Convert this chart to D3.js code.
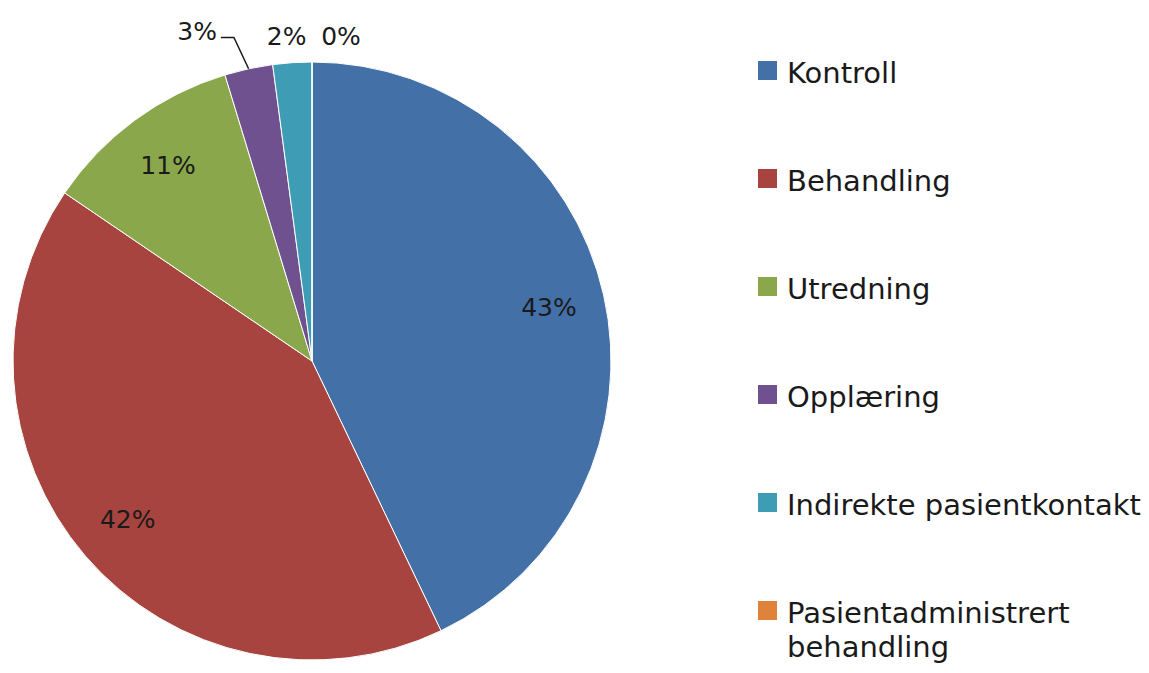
<!DOCTYPE html>
<html>
<head>
<meta charset="utf-8">
<title>Pie</title>
<script src="https://d3js.org/d3.v7.min.js"></script>
<style>
body { margin: 0; background: #fff; }
text { font-family: "DejaVu Sans", sans-serif; fill: #1a1a1a; }
</style>
</head>
<body>
<script>
// data
var categories = ["Kontroll", "Behandling", "Utredning", "Opplæring", "Indirekte pasientkontakt", "Pasientadministrert behandling"];
var values = [42.9, 41.6, 10.8, 2.6, 2.1, 0];
var labels = ["43%", "42%", "11%", "3%", "2%", "0%"];
var colors = ["#4470a8", "#a8443f", "#8aa84b", "#70518f", "#3e9cb5", "#e0823a"];

var w = 1149, h = 673,
    cx = 312, cy = 361, r = 299;

var svg = d3.select("body").append("svg")
    .attr("width", w)
    .attr("height", h);

var data = categories.map(function(c, i){ return {name: c, value: values[i], label: labels[i], color: colors[i]}; });

var pie = d3.pie().sort(null).value(function(d){ return d.value; });
var arcs = pie(data);

var arc = d3.arc().innerRadius(0).outerRadius(r);
var labelArc = d3.arc().innerRadius(243).outerRadius(243);
var outArc = d3.arc().innerRadius(325).outerRadius(325);
var edgeArc = d3.arc().innerRadius(r).outerRadius(r);

var g = svg.append("g").attr("transform", "translate(" + cx + "," + cy + ")");

g.selectAll("path.slice")
  .data(arcs)
  .enter().append("path")
    .attr("class", "slice")
    .attr("d", arc)
    .attr("fill", function(d){ return d.data.color; })
    .attr("stroke", "#fff")
    .attr("stroke-width", 1);

// small slices get their label outside, excel style; 3% is pushed left with a leader
var nudge = {3: {dx: -46, dy: -12, leader: true}, 4: {dx: -4, dy: 0}, 5: {dx: 29, dy: 0}};

arcs.forEach(function(d, i){
  var inside = d.data.value > 5;
  var p = inside ? labelArc.centroid(d) : outArc.centroid(d);
  var n = nudge[i] || {dx: 0, dy: 0};
  var x = p[0] + n.dx, y = p[1] + n.dy;
  var t = g.append("text")
    .attr("x", x)
    .attr("y", y)
    .attr("text-anchor", "middle")
    .attr("dominant-baseline", "central")
    .attr("font-size", 25)
    .text(d.data.label);
  if(n.leader){
    var bb = t.node().getBBox();
    var e = edgeArc.centroid(d);
    var x0 = bb.x + bb.width + 4, y0 = y + 6;
    g.append("path")
      .attr("d", "M" + x0 + "," + y0 + "H" + (x0 + 13) + "L" + e[0] + "," + e[1])
      .attr("fill", "none")
      .attr("stroke", "#1a1a1a")
      .attr("stroke-width", 1.5);
  }
});

// legend
var legend = svg.append("g").attr("transform", "translate(758,83)");
var item = legend.selectAll("g")
  .data(data)
  .enter().append("g")
    .attr("transform", function(d, i){ return "translate(0," + (i * 108) + ")"; });

item.append("rect")
  .attr("x", 0)
  .attr("y", -22)
  .attr("width", 19)
  .attr("height", 19)
  .attr("fill", function(d){ return d.color; });

item.append("text")
  .attr("x", 29)
  .attr("y", 0)
  .attr("font-size", 29)
  .each(function(d){
    var words = d.name === "Pasientadministrert behandling" ? ["Pasientadministrert", "behandling"] : [d.name];
    var sel = d3.select(this);
    words.forEach(function(wd, k){
      sel.append("tspan").attr("x", 29).attr("dy", k ? 34 : 0).text(wd);
    });
  });
</script>
</body>
</html>
